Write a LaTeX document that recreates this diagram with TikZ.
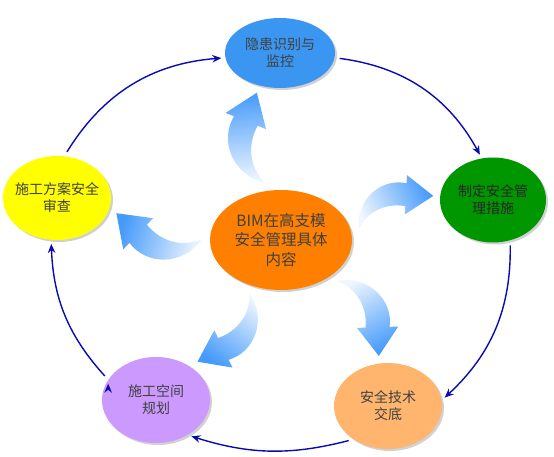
\documentclass[tikz,border=0pt]{standalone}
\usepackage{fontspec}
\newfontfamily\cjk{Noto Sans CJK SC}
\usetikzlibrary{shapes.geometric,shadows,arrows.meta,calc}
\definecolor{bimorange}{RGB}{255,128,0}
\definecolor{riskblue}{RGB}{58,150,240}
\definecolor{measgreen}{RGB}{0,150,0}
\definecolor{briefpeach}{RGB}{255,181,110}
\definecolor{spacepurple}{RGB}{204,153,255}
\definecolor{planyellow}{RGB}{255,255,0}
\definecolor{ringblue}{RGB}{10,10,180}
\definecolor{arrlight}{RGB}{238,246,255}
\definecolor{arrdark}{RGB}{70,155,250}
\tikzset{
  bubble/.style={ellipse, inner sep=-8pt, align=center, text=black!75,
    font=\cjk\fontsize{14}{17}\selectfont, minimum width=108pt, minimum height=85pt,
    drop shadow={shadow xshift=2pt, shadow yshift=-2pt, fill=black!30, opacity=.6}},
  ring/.style={draw=ringblue, line width=1.4pt, -{Stealth[length=9pt,width=7.5pt]},
    shorten <=5pt, shorten >=4pt},
  fatarr/.style={top color=arrdark, bottom color=arrlight}
}
% curved block arrow between two anchors
\newcommand{\fatarrow}[2]{%
  \path ($(#1)!8pt!(#2)$); \pgfgetlastxy{\ax}{\ay}%
  \path ($(#2)!8pt!(#1)$); \pgfgetlastxy{\bx}{\by}%
  \pgfmathsetmacro{\arrang}{atan2(\by-\ay,\bx-\ax)}%
  \pgfmathsetmacro{\arrlen}{veclen(\bx-\ax,\by-\ay)}%
  \pgfmathsetmacro{\shang}{\arrang-90}%
  \begin{scope}[shift={(\ax,\ay)}, rotate=\arrang, x=\arrlen pt, y=\arrlen pt]
    \shade[fatarr, shading angle=\shang] (0,0) .. controls (0.12,0.36) and (0.52,0.46) .. (0.764,0.275)
      -- (0.81,0.364) -- (1,0) -- (0.59,-0.064) -- (0.636,0.025)
      .. controls (0.44,0.16) and (0.18,0.16) .. (0,0) -- cycle;
  \end{scope}}

\begin{document}
\begin{tikzpicture}[x=1pt,y=1pt]
  \useasboundingbox (0,0) rectangle (554,457);
  \node[bubble,fill=bimorange,minimum width=142pt,minimum height=100pt,
        font=\cjk\fontsize{15.5}{19.5}\selectfont] (bim) at (281,217) {BIM在高支模\\安全管理具体\\内容};
  \node[bubble,fill=riskblue,minimum width=110pt,minimum height=70pt] (risk) at (280,404) {隐患识别与\\监控};
  \node[bubble,fill=measgreen,minimum width=106pt,text=black!85] (meas) at (493,257) {制定安全管\\理措施};
  \node[bubble,fill=briefpeach,minimum height=86pt] (brief) at (388,51) {安全技术\\交底};
  \node[bubble,fill=spacepurple,minimum height=86pt] (space) at (156,57) {施工空间\\规划};
  \node[bubble,fill=planyellow,minimum height=84pt] (plan) at (57,259) {施工方案安全\\审查};

  \fatarrow{bim.107}{risk.233}
  \fatarrow{bim.6}{meas.172}
  \fatarrow{bim.181}{plan.346}
  \fatarrow{bim.240}{space.41}
  \fatarrow{bim.327}{brief.97}

  \path[ring]
    (plan.80) edge[bend left=27] (risk.185)
    (risk.355) edge[bend left=27] (meas.105)
    (meas.293) edge[bend left=24] (brief.6)
    (brief.224) edge[bend left=16] (space.312)
    (space.157) edge[bend left=20] (plan.262);
\end{tikzpicture}
\end{document}
